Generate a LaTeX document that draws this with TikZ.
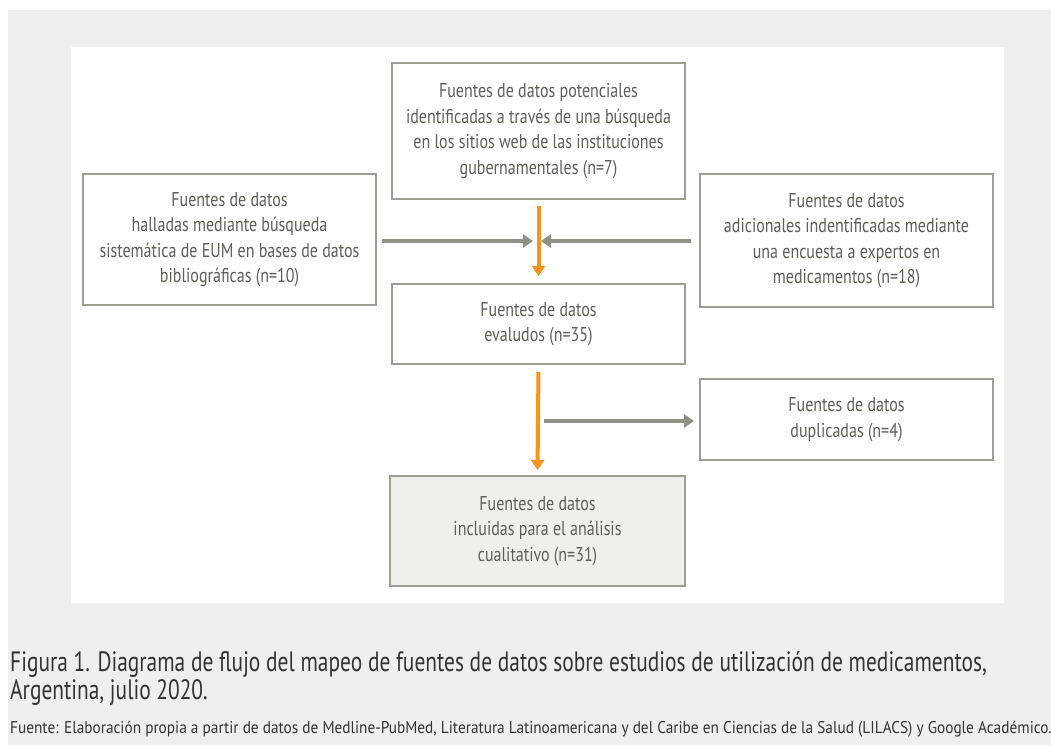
\documentclass[tikz,border=0pt]{standalone}
\usepackage{fontspec}
\setmainfont{PT Sans}[FakeStretch=0.8]
\newfontfamily\leyendafont{PT Sans}[FakeStretch=0.765]
\newfontfamily\fuentefont{PT Sans}[FakeStretch=0.9]
\usetikzlibrary{arrows.meta}
\definecolor{fondo}{RGB}{239,239,237}
\definecolor{borde}{RGB}{158,158,148}
\definecolor{flechagris}{RGB}{145,145,135}
\definecolor{texto}{RGB}{95,95,88}
\definecolor{naranja}{RGB}{247,148,29}
\definecolor{relleno}{RGB}{240,240,234}
\tikzset{
  caja/.style={draw=borde, line width=2pt, text=texto, align=center,
    minimum width=293pt, inner sep=0pt, font=\fontsize{20}{25.5}\selectfont},
  flujo/.style={naranja, line width=4pt, -{Triangle[length=10pt,width=13pt]}},
  lateral/.style={flechagris, line width=4pt, -{Triangle[length=10pt,width=13pt]}}
}
\begin{document}
\begin{tikzpicture}[x=1pt,y=-1pt]
\useasboundingbox (0,0) rectangle (1051,745);

% Fondo
  \fill[fondo] (8,10) rectangle (1051,745);
  \fill[white] (71,47) rectangle (1004,603);

% Cajas
  \node[caja, minimum height=136pt] (web) at (538.5,131) {Fuentes de datos potenciales\\identificadas a trav\'es de una b\'usqueda\\en los sitios web de las instituciones\\gubernamentales (n=7)};
  \node[caja, minimum height=131pt] (biblio) at (229.5,239.5) {Fuentes de datos\\halladas mediante b\'usqueda\\sistem\'atica de EUM en bases de datos\\bibliogr\'aficas (n=10)};
  \node[caja, minimum height=133pt] (expertos) at (846.5,240.5) {Fuentes de datos\\adicionales indentificadas mediante\\una encuesta a expertos en\\medicamentos (n=18)};
  \node[caja, minimum height=80pt] (evaluados) at (538.5,324) {Fuentes de datos\\evaludos (n=35)};
  \node[caja, minimum height=81pt] (duplicadas) at (846.5,419.5) {Fuentes de datos\\duplicadas (n=4)};
  \node[caja, fill=relleno, minimum width=295pt, minimum height=110pt] (incluidas) at (537.5,531) {Fuentes de datos\\incluidas para el an\'alisis\\cualitativo (n=31)};

% Flechas
  \coordinate (cruce) at (536,241);
  \coordinate (salida) at (544,421);
  \draw[flujo, shorten <=6pt, shorten >=7pt] (web.south) -- (evaluados.north);
  \draw[lateral, shorten <=5pt, shorten >=3pt] (biblio.east |- cruce) -- (cruce);
  \draw[lateral, shorten <=8pt, shorten >=5pt] (expertos.west |- cruce) -- (cruce);
  \draw[flujo, shorten <=7pt, shorten >=5pt] (evaluados.south) -- (incluidas.north);
  \draw[lateral, shorten >=5pt] (salida) -- (salida -| duplicadas.west);

% Leyenda
  \node[anchor=north west, align=left, inner sep=0pt, text=black!80, font=\leyendafont\fontsize{28}{28}\selectfont] (titulo) at (10,651) {Figura 1. Diagrama de flujo del mapeo de fuentes de datos sobre estudios de utilizaci\'on de medicamentos,\\Argentina, julio 2020.};
  \node[anchor=north west, inner sep=0pt, text=black!80, font=\fuentefont\fontsize{17}{20}\selectfont] (fuente) at (10,721) {Fuente: Elaboraci\'on propia a partir de datos de Medline-PubMed, Literatura Latinoamericana y del Caribe en Ciencias de la Salud (LILACS) y Google Acad\'emico.};

\end{tikzpicture}
\end{document}
